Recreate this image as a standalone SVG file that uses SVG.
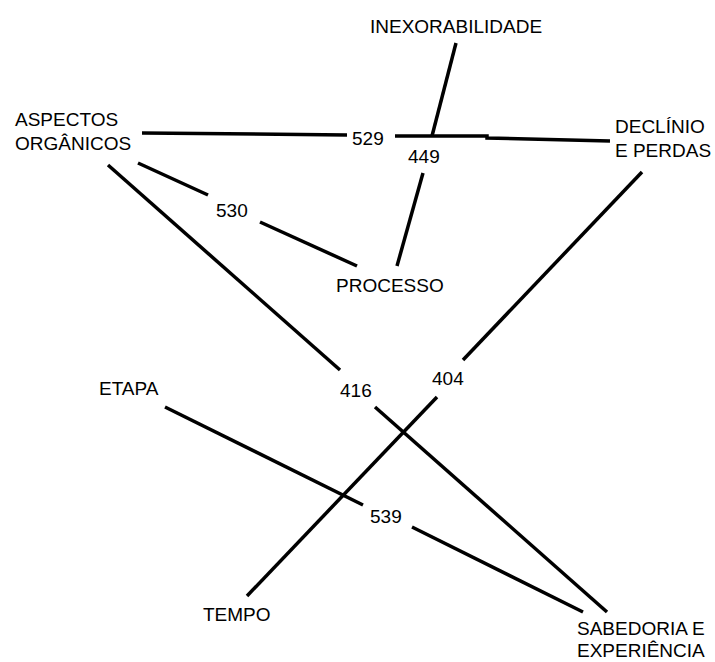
<svg xmlns="http://www.w3.org/2000/svg" width="715" height="662" viewBox="0 0 715 662">
<style>
text { font-family: "Liberation Sans", Arial, sans-serif; font-size: 19px; fill: #000; }
.c { fill: none; stroke: #000; stroke-width: 3.5; stroke-linecap: butt; stroke-linejoin: miter; }
</style>
<rect width="715" height="662" fill="#fff"/>
<g id="connectors">
  <polyline class="c" points="142,133 347,135"/>
  <polyline class="c" points="395,136 487,136 487,138 610,141"/>
  <polyline class="c" points="456,43 432,136"/>
  <polyline class="c" points="423,173 397,266"/>
  <polyline class="c" points="138,163 208,195"/>
  <polyline class="c" points="260,222 357,266"/>
  <polyline class="c" points="108,165 340,370"/>
  <polyline class="c" points="375,407 607,612"/>
  <polyline class="c" points="642,172 463,360"/>
  <polyline class="c" points="437,397 247,596"/>
  <polyline class="c" points="165,407 363,505"/>
  <polyline class="c" points="412,527 583,612"/>
  <g id="link-labels">
    <text x="352" y="145">529</text>
    <text x="408" y="163">449</text>
    <text x="216" y="217">530</text>
    <text x="340" y="397">416</text>
    <text x="432" y="385">404</text>
    <text x="370" y="523">539</text>
  </g>
</g>
<g id="inexorabilidade"><text x="370" y="33">INEXORABILIDADE</text></g>
<g id="aspectos-organicos"><text x="15" y="126">ASPECTOS</text><text x="15" y="150">ORGÂNICOS</text></g>
<g id="declinio-perdas"><text x="615" y="133">DECLÍNIO</text><text x="615" y="157">E PERDAS</text></g>
<g id="processo"><text x="336" y="292">PROCESSO</text></g>
<g id="etapa"><text x="99" y="395">ETAPA</text></g>
<g id="tempo"><text x="203" y="621">TEMPO</text></g>
<g id="sabedoria-experiencia"><text x="577" y="635">SABEDORIA E</text><text x="577" y="657">EXPERIÊNCIA</text></g>
</svg>
